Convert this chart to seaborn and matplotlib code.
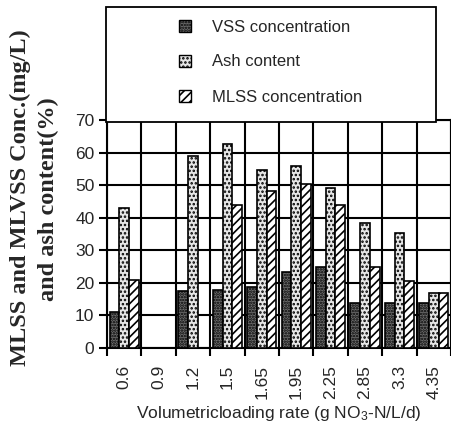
import matplotlib
matplotlib.use("Agg")
import matplotlib.pyplot as plt
import seaborn as sns
import pandas as pd
import numpy as np
from matplotlib.patches import Rectangle, Patch

# ---- data ----
rates = ["0.6", "0.9", "1.2", "1.5", "1.65", "1.95", "2.25", "2.85", "3.3", "4.35"]
vss = [11.1, np.nan, 17.5, 17.9, 18.7, 23.3, 24.8, 13.7, 13.7, 13.7]
ash = [42.9, np.nan, 59.0, 62.5, 54.7, 56.0, 49.1, 38.5, 35.3, 17.0]
mlss = [21.0, np.nan, np.nan, 43.9, 48.3, 50.3, 43.9, 25.0, 20.5, 17.0]
series = ["VSS concentration", "Ash content", "MLSS concentration"]
yticks = [0, 10, 20, 30, 40, 50, 60, 70]

df = pd.DataFrame({
    "rate": rates * 3,
    "value": vss + ash + mlss,
    "series": [series[0]] * len(rates) + [series[1]] * len(rates) + [series[2]] * len(rates),
})

sns.set_theme(style="white")
plt.rcParams["font.family"] = ["Liberation Sans", "DejaVu Sans"]
plt.rcParams["mathtext.default"] = "regular"
plt.rcParams["hatch.linewidth"] = 1.2

fig = plt.figure(figsize=(4.52, 4.34), dpi=100)
ax = fig.add_axes([107 / 452, 1 - 348 / 434, 344 / 452, 228 / 434])

faces = {series[0]: "#6e6e6e", series[1]: "#e6e6e6", series[2]: "white"}
hatches = {series[0]: "......", series[1]: "....", series[2]: "////"}

sns.barplot(data=df, x="rate", y="value", hue="series", order=rates,
            hue_order=series, palette=faces, width=0.85, ax=ax,
            edgecolor="black", linewidth=1.2, legend=False, zorder=3)

for cont, s in zip(ax.containers, series):
    for bar in cont:
        bar.set_hatch(hatches[s])
        bar.set_facecolor(faces[s])
        bar.set_edgecolor("black")

ax.set_xlim(-0.5, len(rates) - 0.5)
ax.set_ylim(0, 70)
ax.set_yticks(yticks)
ax.set_yticklabels([str(t) for t in yticks], fontsize=12.5)
ax.set_xticks(range(len(rates)))
ax.set_xticklabels(rates, rotation=90, fontsize=12.5)
ax.set_xticks(np.arange(-0.5, len(rates) - 0.4, 1.0), minor=True)
ax.tick_params(axis="x", which="major", length=0, pad=12)
ax.tick_params(axis="x", which="minor", length=6, width=1.5, color="black", direction="out", bottom=True)
ax.tick_params(axis="y", which="major", length=6, width=1.5, color="black", direction="out", left=True, pad=3)
ax.grid(False)
ax.yaxis.grid(True, which="major", color="black", linewidth=1.5, zorder=1)
ax.xaxis.grid(True, which="minor", color="black", linewidth=1.5, zorder=1)
ax.set_axisbelow(True)
for sp in ax.spines.values():
    sp.set_color("black")
    sp.set_linewidth(1.5)

ax.set_xlabel("Volumetricloading rate (g NO$_3$-N/L/d)", fontsize=12.5, labelpad=4)
ax.set_ylabel("")

fig.text(20 / 452, 1 - 198 / 434, "MLSS and MLVSS Conc.(mg/L)", rotation=90,
         ha="center", va="center", fontsize=17.5, fontweight="bold",
         family=["Liberation Serif", "DejaVu Serif"])
fig.text(48 / 452, 1 - 199 / 434, "and ash content(%)", rotation=90,
         ha="center", va="center", fontsize=17.5, fontweight="bold",
         family=["Liberation Serif", "DejaVu Serif"])

# legend box
box = Rectangle((106 / 452, 1 - 122 / 434), 330 / 452, 115 / 434,
                transform=fig.transFigure, facecolor="white", edgecolor="black",
                linewidth=1.3, zorder=10)
fig.add_artist(box)
handles = [Patch(facecolor=faces[s], edgecolor="black", hatch=hatches[s]) for s in series]
leg = fig.legend(handles, series, loc="center left",
                 bbox_to_anchor=(164 / 452, 1 - 62 / 434), frameon=False,
                 fontsize=12, handlelength=0.7, handleheight=0.7,
                 handletextpad=1.3, labelspacing=1.2)
leg.set_zorder(11)

fig.savefig("out.png", dpi=100, facecolor="white")
